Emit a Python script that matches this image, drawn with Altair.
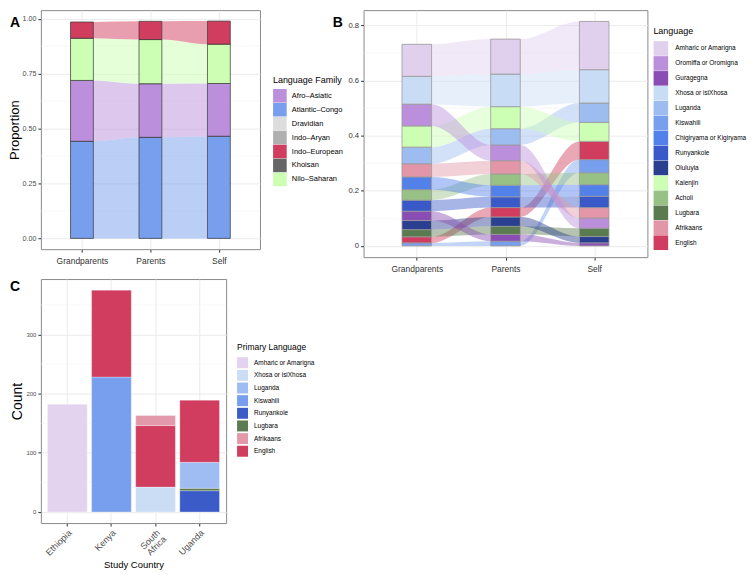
import json
import altair as alt
import pandas as pd

FONT = "Liberation Sans"
W = 1 / 3  # stratum width in x units

gens = ["Grandparents", "Parents", "Self"]

# ---------------- Panel A: language family ----------------
families = ["Afro–Asiatic", "Atlantic–Congo", "Dravidian", "Indo–Aryan",
            "Indo–European", "Khoisan", "Nilo–Saharan"]
family_colors = ["#bb8fdb", "#779fed", "#dddddd", "#b0b0b0",
                 "#d13d5e", "#666666", "#ccffb3"]
family_stack = ["Atlantic–Congo", "Afro–Asiatic", "Nilo–Saharan", "Indo–European"]  # bottom -> top
fam_grandparents = [0.442, 0.277, 0.192, 0.074]
fam_parents = [0.460, 0.244, 0.201, 0.083]
fam_self = [0.465, 0.240, 0.179, 0.105]

# ---------------- Panel B: language ----------------
languages = ["Amharic or Amarigna", "Oromiffa or Oromigna", "Guragegna",
             "Xhosa or isiXhosa", "Luganda", "Kiswahili",
             "Chigiryama or Kigiryama", "Runyankole", "Oluluyia", "Kalenjin",
             "Acholi", "Lugbara", "Afrikaans", "English"]
language_colors = ["#e1cfee", "#bb8fdb", "#8a4db3", "#c9dcf5", "#9dbcf0",
                   "#779fed", "#5281ea", "#3a59c8", "#2a3f8f", "#ccffb3",
                   "#97c185", "#5a7a50", "#e396a8", "#d13d5e"]

# order of strata, top -> bottom, with heights
grand_order = ["Amharic or Amarigna", "Xhosa or isiXhosa", "Oromiffa or Oromigna",
               "Kalenjin", "Luganda", "Afrikaans", "Chigiryama or Kigiryama",
               "Acholi", "Runyankole", "Guragegna", "Oluluyia", "Lugbara",
               "English", "Kiswahili"]
grand_values = [0.116, 0.101, 0.079, 0.077, 0.060, 0.048, 0.046,
                0.038, 0.040, 0.034, 0.033, 0.026, 0.022, 0.011]
parents_order = ["Amharic or Amarigna", "Xhosa or isiXhosa", "Kalenjin", "Luganda",
                 "Oromiffa or Oromigna", "Afrikaans", "Acholi",
                 "Chigiryama or Kigiryama", "Runyankole", "English", "Oluluyia",
                 "Lugbara", "Guragegna", "Kiswahili"]
parents_values = [0.127, 0.118, 0.080, 0.059, 0.057, 0.048, 0.041,
                  0.042, 0.039, 0.034, 0.034, 0.029, 0.025, 0.017]
self_order = ["Amharic or Amarigna", "Xhosa or isiXhosa", "Luganda", "Kalenjin",
              "English", "Kiswahili", "Acholi", "Chigiryama or Kigiryama",
              "Runyankole", "Afrikaans", "Oromiffa or Oromigna", "Lugbara",
              "Oluluyia", "Guragegna"]
self_values = [0.175, 0.121, 0.070, 0.069, 0.066, 0.048, 0.043,
               0.042, 0.041, 0.038, 0.037, 0.030, 0.023, 0.011]

# ---------------- Panel C: primary language by country ----------------
countries = ["Ethiopia", "Kenya", "South Africa", "Uganda"]
primary_languages = ["Amharic or Amarigna", "Xhosa or isiXhosa", "Luganda",
                     "Kiswahili", "Runyankole", "Lugbara", "Afrikaans", "English"]
primary_colors = ["#e3d3ef", "#cbdcf5", "#9fbdf2", "#779fed", "#3b5bc9",
                  "#5d7a53", "#e29aab", "#d13d5e"]
c_country = ["Ethiopia", "Kenya", "Kenya", "South Africa", "South Africa",
             "South Africa", "Uganda", "Uganda", "Uganda", "Uganda"]
c_language = ["Amharic or Amarigna", "Kiswahili", "English", "Xhosa or isiXhosa",
              "English", "Afrikaans", "Runyankole", "Lugbara", "Luganda", "English"]
c_count = [182, 228, 147, 42, 104, 17, 36, 4, 44, 105]
c_order = [1, 1, 2, 1, 2, 3, 1, 2, 3, 4]  # bottom -> top


# ---------- helpers to build strata and flows ----------
def strata(columns):
    rows = []
    for i, (names, vals) in enumerate(columns, start=1):
        base = 0.0
        for n, v in zip(names, vals):
            rows.append({"name": n, "gen": i, "x0": i - W / 2, "x1": i + W / 2,
                         "lo": base, "hi": base + v})
            base += v
    return pd.DataFrame(rows)


def flows(bars):
    rows = []
    eps = 0.002
    for name in bars["name"].unique():
        sub = bars[bars["name"] == name].set_index("gen")
        for i in (1, 2):
            if i in sub.index and i + 1 in sub.index:
                a, b = sub.loc[i], sub.loc[i + 1]
                fid = f"{name}-{i}"
                xa, xb = i + W / 2, i + 1 - W / 2
                for x, lo, hi in [(xa, a.lo, a.hi), (xa + eps, a.lo, a.hi),
                                  (xb - eps, b.lo, b.hi), (xb, b.lo, b.hi)]:
                    rows.append({"name": name, "flow": fid, "x": x, "lo": lo, "hi": hi})
    return pd.DataFrame(rows)


barsA = strata([(family_stack, fam_grandparents), (family_stack, fam_parents),
                (family_stack, fam_self)])
flowsA = flows(barsA)
barsB = strata([(grand_order[::-1], grand_values[::-1]),
                (parents_order[::-1], parents_values[::-1]),
                (self_order[::-1], self_values[::-1])])
flowsB = flows(barsB)
dfC = pd.DataFrame({"country": c_country, "language": c_language,
                    "count": c_count, "ord": c_order})

LBL = "[''," + ",".join(json.dumps(g) for g in gens) + "][datum.value]"
x_scale = alt.Scale(domain=[0.4, 3.6], nice=False, zero=False)


def x_axis():
    return alt.Axis(values=[1, 2, 3], labelExpr=LBL, title=None, labelFontSize=8.5,
                    labelColor="#333333", labelPadding=4, tickSize=3, grid=True)


def panel_title(t, dy=0):
    return alt.TitleParams(t, anchor="start", frame="group", orient="top", offset=0,
                           baseline="top", dx=-31, dy=dy, fontSize=14,
                           fontWeight="bold", font=FONT, color="black")


# ---------------- Chart A ----------------
yA_scale = alt.Scale(domain=[-0.049, 1.039], nice=False, zero=False)
yA_axis = alt.Axis(values=[0, 0.25, 0.5, 0.75, 1.0], format=".2f", title="Proportion",
                   titleFontSize=13, titlePadding=0, labelFontSize=7.2, tickSize=3,
                   labelPadding=2, grid=True)
famA_scale = alt.Scale(domain=families, range=family_colors)
famA_flow_scale = alt.Scale(domain=families[::-1], range=family_colors[::-1])
legA = alt.Legend(title="Language Family", orient="none", legendX=233, legendY=66,
                  titleFontSize=9, labelFontSize=7.5, symbolType="square",
                  symbolSize=187, symbolStrokeWidth=0,
                  symbolOpacity=1, rowPadding=0, labelOffset=5,
                  titlePadding=4, labelLimit=200)
minorA = [0.125, 0.375, 0.625, 0.875]

gridA = alt.Chart(pd.DataFrame({"v": minorA})).mark_rule(
    color="#f0f0f0", strokeWidth=0.5).encode(
    y=alt.Y("v:Q", scale=yA_scale, axis=yA_axis))
flowA = alt.Chart(flowsA).mark_area(interpolate="monotone", opacity=0.5).encode(
    x=alt.X("x:Q", scale=x_scale, axis=x_axis()),
    y=alt.Y("lo:Q", scale=yA_scale, axis=yA_axis, stack=None),
    y2="hi:Q",
    fill=alt.Fill("name:N", scale=famA_flow_scale, legend=None),
    detail="flow:N")
barA = alt.Chart(barsA).mark_rect(stroke="#333333", strokeWidth=0.7).encode(
    x=alt.X("x0:Q", scale=x_scale, axis=x_axis()), x2="x1:Q",
    y=alt.Y("lo:Q", scale=yA_scale, axis=yA_axis, stack=None), y2="hi:Q",
    color=alt.Color("name:N", scale=famA_scale, legend=legA))
A = alt.layer(gridA, flowA, barA).properties(width=220, height=240,
                                              title=panel_title("A", dy=20))

# ---------------- Chart B ----------------
yB_scale = alt.Scale(domain=[-0.0407, 0.855], nice=False, zero=False)
yB_axis = alt.Axis(values=[0, 0.2, 0.4, 0.6, 0.8], format="~g", title=None,
                   labelFontSize=7.7, labelColor="#333333", tickSize=3,
                   labelPadding=2, grid=True)
langB_scale = alt.Scale(domain=languages, range=language_colors)
langB_flow_scale = alt.Scale(domain=languages[::-1], range=language_colors[::-1])
legB = alt.Legend(title="Language", orient="none", legendX=291, legendY=17,
                  titleFontSize=9, labelFontSize=6.5, symbolType="square",
                  symbolSize=214, symbolStrokeWidth=0,
                  symbolOpacity=1, rowPadding=0, labelOffset=7,
                  titlePadding=5, labelLimit=200)
minorB = [0.1, 0.3, 0.5, 0.7]

gridB = alt.Chart(pd.DataFrame({"v": minorB})).mark_rule(
    color="#f0f0f0", strokeWidth=0.5).encode(
    y=alt.Y("v:Q", scale=yB_scale, axis=yB_axis))
flowB = alt.Chart(flowsB).mark_area(interpolate="monotone", opacity=0.45).encode(
    x=alt.X("x:Q", scale=x_scale, axis=x_axis()),
    y=alt.Y("lo:Q", scale=yB_scale, axis=yB_axis, stack=None),
    y2="hi:Q",
    fill=alt.Fill("name:N", scale=langB_flow_scale, legend=None),
    detail="flow:N")
barB = alt.Chart(barsB).mark_rect(stroke="#999999", strokeWidth=0.8).encode(
    x=alt.X("x0:Q", scale=x_scale, axis=x_axis()), x2="x1:Q",
    y=alt.Y("lo:Q", scale=yB_scale, axis=yB_axis, stack=None), y2="hi:Q",
    color=alt.Color("name:N", scale=langB_scale, legend=legB))
B = alt.layer(gridB, flowB, barB).properties(width=285, height=248,
                                              title=panel_title("B", dy=20))

# ---------------- Chart C ----------------
yC_scale = alt.Scale(domain=[-18.75, 393.75], nice=False, zero=False)
yC_axis = alt.Axis(values=[0, 100, 200, 300], title="Count", titleFontSize=14,
                   titlePadding=1, labelFontSize=6, tickSize=3, labelPadding=2,
                   grid=True)
xC_axis = alt.Axis(title="Study Country", titleFontSize=9.5, titleColor="#000000",
                   labelAngle=315, labelAlign="right", labelBaseline="top",
                   labelFontSize=9, labelColor="#4d4d4d", tickSize=3,
                   labelPadding=2, bandPosition=0.5, grid=True,
                   labelExpr="datum.value == 'South Africa' ? ['South', 'Africa'] : datum.value",
                   labelLineHeight=9, titlePadding=2)
primC_scale = alt.Scale(domain=primary_languages, range=primary_colors)
legC = alt.Legend(title="Primary Language", orient="none", legendX=197, legendY=64,
                  titleFontSize=8.5, labelFontSize=6.5, symbolType="square",
                  symbolSize=121, symbolStrokeWidth=0, symbolOpacity=1,
                  rowPadding=1.7, labelOffset=6, titlePadding=6, labelLimit=200)
minorC = [50, 150, 250, 350]

gridC = alt.Chart(pd.DataFrame({"v": minorC})).mark_rule(
    color="#f0f0f0", strokeWidth=0.5).encode(
    y=alt.Y("v:Q", scale=yC_scale, axis=yC_axis))
barC = alt.Chart(dfC).mark_bar(stroke="white", strokeWidth=0.3).encode(
    x=alt.X("country:N", sort=countries,
            scale=alt.Scale(domain=countries, paddingInner=0.1, paddingOuter=0.15),
            axis=xC_axis),
    y=alt.Y("count:Q", stack="zero", scale=yC_scale, axis=yC_axis),
    color=alt.Color("language:N", scale=primC_scale, legend=legC),
    order=alt.Order("ord:Q"))
C = alt.layer(gridC, barC).properties(width=186, height=245,
                                       title=panel_title("C", dy=15))

chart = alt.ConcatChart(
    concat=[A, B, C], columns=2, spacing={"row": 22, "column": 104},
    bounds="flush", align="each"
).resolve_scale(color="independent", fill="independent").resolve_legend(
    color="independent"
).properties(padding=0).configure_view(
    stroke="#8a8a8a", strokeWidth=1
).configure_axis(
    labelFont=FONT, titleFont=FONT, labelColor="#4d4d4d", tickColor="#333333",
    domain=False, gridColor="#ebebeb", gridWidth=1, titleFontWeight="normal",
    titleColor="#000000"
).configure_legend(
    labelFont=FONT, titleFont=FONT, titleFontWeight="normal", labelColor="#000000",
    titleColor="#000000"
).configure_title(font=FONT)

chart.save("out.html", embed_options={"renderer": "svg", "actions": False})
